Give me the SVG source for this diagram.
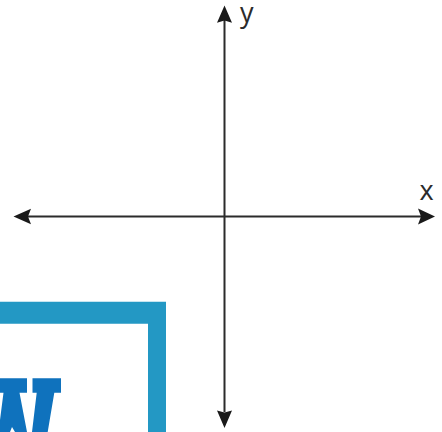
<svg xmlns="http://www.w3.org/2000/svg" width="442" height="432" viewBox="0 0 442 432">
<style>
.axis{stroke:#2b2b2b;stroke-width:2;fill:none}
.head{fill:#1a1a1a}
.lbl{font-family:"Open Sans","Noto Sans",sans-serif;font-size:27px;fill:#2b2b2b}
.frame{fill:#2398c4}
.glyph{fill:#0f72bd}
</style>
<rect width="442" height="432" fill="#fff"/>
<path class="frame" d="M0 301.700H166V432H148V323.700H0Z"/>
<path class="glyph" d="M0 378.300H27V392.700H19.500L27 432H15L12 427L10 432H0V420L3.500 392.700H0Z"/>
<path class="glyph" d="M32.500 378.300H61V392.700H54.300L47.700 432H32L36.700 392.700H32.500Z"/>
<g id="connectors">
<path class="axis" d="M224.500 20V412"/>
<path class="axis" d="M28 216.500H422"/>
<path class="head" d="M224.500 5.500L232 22.700L224.500 20.500L217 22.700Z"/>
<path class="head" d="M224.500 428L217 410.500L224.500 412.500L232 410.500Z"/>
<path class="head" d="M13.500 216.500L31 208.800L28 216.500L31 224.200Z"/>
<path class="head" d="M435 216.500L418 208.500L421 216.500L418 224.500Z"/>
</g>
<g id="label-y"><text class="lbl" x="240" y="21.500">y</text></g>
<g id="label-x"><text class="lbl" x="419.500" y="199.500">x</text></g>
</svg>
